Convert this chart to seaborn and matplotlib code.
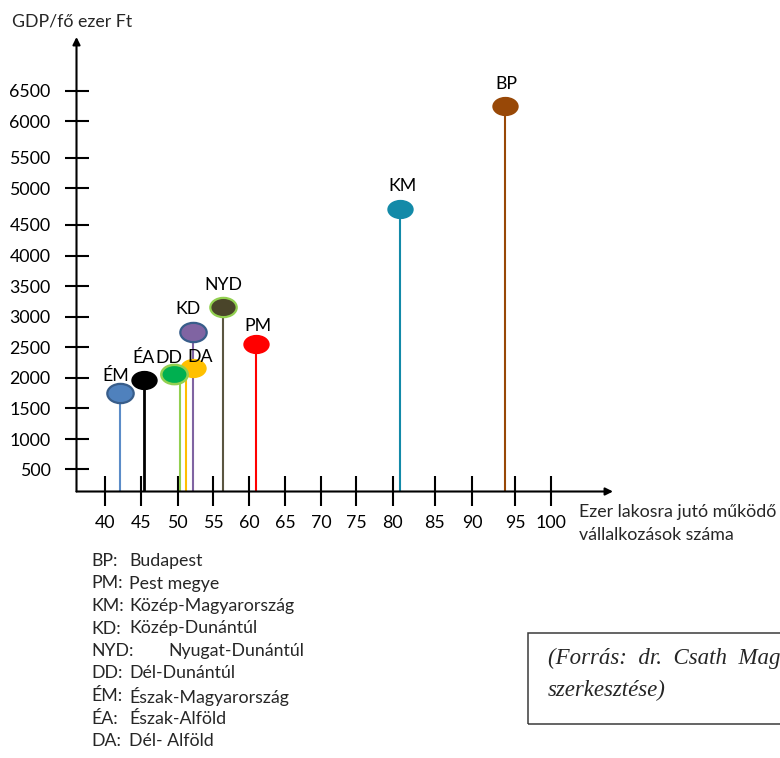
import numpy as np
import matplotlib
matplotlib.use("Agg")
import matplotlib.pyplot as plt
import matplotlib.transforms as mtransforms
from matplotlib.markers import MarkerStyle
from matplotlib.path import Path
from matplotlib.patches import Rectangle
import seaborn as sns

# ---------------------------------------------------------------- data
regions = ["ÉM", "ÉA", "KD", "DA", "DD", "NYD", "PM", "KM", "BP"]
enterprises_per_1000 = [42.0, 45.4, 52.1, 51.2, 50.3, 56.4, 60.9, 80.9, 93.8]
gdp_per_capita = [1740, 1960, 2750, 2150, 2055, 3160, 2550, 4710, 6250]

x_tick_values = [40, 45, 50, 55, 60, 65, 70, 75, 80, 85, 90, 95, 100]
y_tick_values = [500, 1000, 1500, 2000, 2500, 3000, 3500, 4000, 4500,
                 5000, 5500, 6000, 6500]

key_abbr = ["BP:", "PM:", "KM:", "KD:", "NYD:", "DD:", "ÉM:", "ÉA:", "DA:"]
key_names = ["Budapest", "Pest megye", "Közép-Magyarország", "Közép-Dunántúl",
             "Nyugat-Dunántúl", "Dél-Dunántúl", "Észak-Magyarország",
             "Észak-Alföld", "Dél- Alföld"]

y_title = "GDP/fő ezer Ft"
x_title = ["Ezer lakosra jutó működő", "vállalkozások száma"]
source_lines = ["(Forrás:  dr.  Csath  Magdolna", "szerkesztése)"]

# ------------------------------------------------------------- styling
fill = {"ÉM": "#4F81BD", "ÉA": "#000000", "KD": "#8064A2", "DA": "#FFC000",
        "DD": "#00B050", "NYD": "#4A452A", "PM": "#FF0000", "KM": "#138AA8",
        "BP": "#984807"}
edge = {"ÉM": "#385D8A", "ÉA": "#000000", "KD": "#385D8A", "DA": "#FFC000",
        "DD": "#92D050", "NYD": "#92D050", "PM": "#FF0000", "KM": "#138AA8",
        "BP": "#984807"}
edge_w = {"ÉM": 1.6, "KD": 1.6, "DD": 1.8, "NYD": 1.6}
stem = {"ÉM": "#5B8CC8", "ÉA": "#000000", "KD": "#8064A2", "DA": "#FFC000",
        "DD": "#92D050", "NYD": "#5B5641", "PM": "#FF0000", "KM": "#138AA8",
        "BP": "#984807"}
stem_w = {"ÉA": 2.0}

# label offsets from the stem top (pixels, right / up) and sideways
# nudges of the two crowded markers
label_offset = {"ÉM": (-4, 17), "ÉA": (-1, 22), "DD": (-11, 16), "DA": (14, 11),
                "KD": (-5, 23), "NYD": (0, 22), "PM": (2, 18), "KM": (2, 23),
                "BP": (1, 22)}
marker_nudge = {"DD": -6.0, "DA": 6.5}

W, H, DPI = 780, 758, 100
FONT = 12.8

# the hand-drawn axes: where each tick sits on the page (pixels)
X_TICK_PX = [105, 141.4, 177.8, 213.3, 249.3, 284.9, 321.3, 356.5, 392.9,
             435.0, 472.5, 515.4, 551]
Y_TICK_PX = [469, 439, 408, 377.7, 347, 316.7, 286, 255.7, 224.7, 188,
             157.7, 121, 90.7]
ORIGIN = (76.5, 491.5)
X_END, Y_END = 613, 37


def fx(px):
    return px / W


def fy(py):
    return 1 - py / H


def drawn_scale(values, pixels):
    """Piecewise-linear scale through the drawn tick marks."""
    v = np.asarray(values, float)
    p = np.asarray(pixels, float)
    s_lo = (p[1] - p[0]) / (v[1] - v[0])
    s_hi = (p[-1] - p[-2]) / (v[-1] - v[-2])
    span = 1e6
    v_ext = np.r_[v[0] - span, v, v[-1] + span]
    p_ext = np.r_[p[0] - span * s_lo, p, p[-1] + span * s_hi]

    def fwd(a):
        return np.interp(a, v_ext, p_ext)

    def inv(a):
        return np.interp(a, p_ext, v_ext)

    return fwd, inv


sns.set_style("white")
plt.rcParams["font.family"] = ["Lato", "DejaVu Sans"]

fig = plt.figure(figsize=(W / DPI, H / DPI), dpi=DPI)
ax = fig.add_axes([fx(ORIGIN[0]), fy(ORIGIN[1]),
                   fx(X_END) - fx(ORIGIN[0]), fy(Y_END) - fy(ORIGIN[1])])

xf, xi = drawn_scale(x_tick_values, X_TICK_PX)
yf, yi = drawn_scale(y_tick_values, [H - p for p in Y_TICK_PX])
ax.set_xscale("function", functions=(xf, xi))
ax.set_yscale("function", functions=(yf, yi))
ax.set_xlim(xi(ORIGIN[0]), xi(X_END))
ax.set_ylim(yi(H - ORIGIN[1]), yi(H - Y_END))
ax.patch.set_alpha(0)

for s in ax.spines.values():
    s.set_visible(False)

# axes drawn as arrows
arrow = dict(arrowstyle="-|>", lw=1.5, color="black", mutation_scale=11,
             shrinkA=0, shrinkB=0)
ax.annotate("", xy=(1, 0), xytext=(0, 0), xycoords="axes fraction",
            arrowprops=arrow, annotation_clip=False)
ax.annotate("", xy=(0, 1), xytext=(0, 0), xycoords="axes fraction",
            arrowprops=arrow, annotation_clip=False)

ax.set_xticks(x_tick_values)
ax.set_xticklabels([str(v) for v in x_tick_values])
ax.set_yticks(y_tick_values)
ax.set_yticklabels([str(v) for v in y_tick_values])
ax.xaxis.set_minor_locator(matplotlib.ticker.NullLocator())
ax.yaxis.set_minor_locator(matplotlib.ticker.NullLocator())
ax.tick_params(axis="x", direction="inout", length=30 * 0.72, width=1.5,
               pad=6, labelsize=FONT, colors="black", bottom=True)
ax.tick_params(axis="y", direction="inout", length=24 * 0.72, width=1.5,
               pad=10, labelsize=FONT, colors="black", left=True)
ax.set_xlabel("")
ax.set_ylabel("")

# stems from the horizontal axis up to each region
base = ax.get_ylim()[0]
for r, xv, yv in zip(regions, enterprises_per_1000, gdp_per_capita):
    ax.vlines(xv, base, yv, colors=stem[r], lw=stem_w.get(r, 1.5), zorder=2)

# ellipse markers
ellipse = MarkerStyle(Path.unit_circle().transformed(
    mtransforms.Affine2D().scale(1.0, 0.73)))
for i, (r, xv, yv) in enumerate(zip(regions, enterprises_per_1000,
                                    gdp_per_capita)):
    shift = mtransforms.ScaledTranslation(marker_nudge.get(r, 0) / DPI, 0,
                                          fig.dpi_scale_trans)
    sns.scatterplot(x=[xv], y=[yv], ax=ax, marker=ellipse, s=19.0 ** 2,
                    color=fill[r], edgecolor=edge[r],
                    linewidth=edge_w.get(r, 0.0), transform=ax.transData + shift,
                    zorder=3 + i * 0.1, legend=False, clip_on=False)
    dx, dy = label_offset[r]
    ax.annotate(r, xy=(xv, yv), xytext=(dx * 0.72, dy * 0.72),
                textcoords="offset points", ha="center", va="center",
                fontsize=FONT, color="black", zorder=5)

ax.set_xlim(xi(ORIGIN[0]), xi(X_END))
ax.set_ylim(yi(H - ORIGIN[1]), yi(H - Y_END))

# axis titles
fig.text(fx(12), fy(21.5), y_title, ha="left", va="center", fontsize=FONT)
fig.text(fx(579), fy(512), x_title[0], ha="left", va="center", fontsize=FONT)
fig.text(fx(579), fy(535), x_title[1], ha="left", va="center", fontsize=FONT)

# key of abbreviations
for k, (ab, nm) in enumerate(zip(key_abbr, key_names)):
    yk = 561 + k * 22.5
    fig.text(fx(91), fy(yk), ab, ha="left", va="center", fontsize=FONT)
    fig.text(fx(168 if ab == "NYD:" else 129), fy(yk), nm, ha="left",
             va="center", fontsize=FONT)

# source box, running past the right edge of the page
fig.patches.append(Rectangle((fx(527.5), fy(724)), fx(800) - fx(527.5),
                             fy(632.5) - fy(724), transform=fig.transFigure,
                             fill=False, edgecolor="#3a3a3a", lw=1.1))
serif = dict(ha="left", va="center", fontsize=16.5,
             family="Liberation Serif", style="italic")
fig.text(fx(548), fy(658), source_lines[0], **serif)
fig.text(fx(548), fy(690), source_lines[1], **serif)

fig.savefig("out.png", dpi=DPI)
